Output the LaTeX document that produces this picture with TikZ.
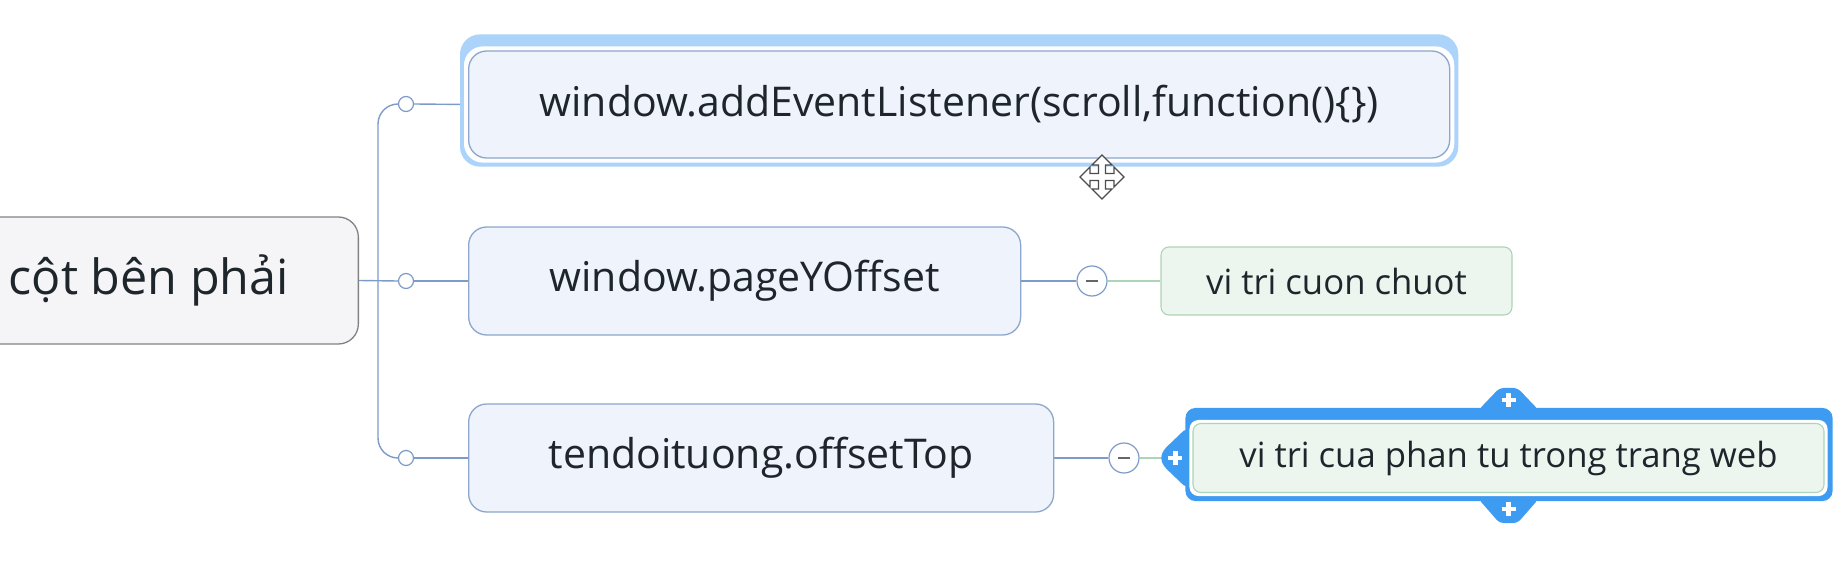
\documentclass[tikz,border=0pt]{standalone}
\usepackage{fontspec}
\setmainfont{Open Sans}
\usetikzlibrary{calc,backgrounds}

\definecolor{boxfill}{RGB}{238,243,252}
\definecolor{boxline}{RGB}{140,166,204}
\definecolor{rootfill}{RGB}{245,245,247}
\definecolor{rootline}{RGB}{130,130,130}
\definecolor{notefill}{RGB}{236,246,239}
\definecolor{noteline}{RGB}{172,212,182}
\definecolor{linkblue}{RGB}{125,155,200}
\definecolor{selpale}{RGB}{172,211,250}
\definecolor{selblue}{RGB}{62,155,242}
\definecolor{inktext}{RGB}{30,38,44}

\tikzset{
  topic/.style={draw=boxline, fill=boxfill, line width=1.3, rounded corners=18,
    text=inktext, font=\fontsize{41}{48}\selectfont, inner sep=0, minimum height=107, anchor=west},
  roottopic/.style={draw=rootline, fill=rootfill, line width=1.3, rounded corners=20,
    text=inktext, font=\fontsize{48.5}{56}\selectfont, inner sep=0, minimum height=127, anchor=east},
  note/.style={draw=noteline, fill=notefill, line width=1.1, rounded corners=8,
    text=inktext, font=\fontsize{34.7}{40}\selectfont, inner sep=0, minimum height=68},
  knob/.style={circle, draw=linkblue, fill=white, line width=1.2, inner sep=0, minimum size=15},
  fold/.style={circle, draw=linkblue, fill=white, line width=1.2, inner sep=0, minimum size=30,
    path picture={\draw[gray!80!black, line width=1.6] (path picture bounding box.center) +(-6,0) -- +(6,0);}},
  link/.style={draw=linkblue, line width=1.4},
  notelink/.style={draw=noteline, line width=1.4},
  plusmark/.style={white, line width=4.2},
}

\begin{document}
\begin{tikzpicture}[x=1pt,y=1pt,yscale=-1,xscale=1]
  \useasboundingbox (0,0) rectangle (1835,575);

  % Root Node
  \node[roottopic, minimum width=419] (root) at (359,280.5) {cột bên phải};

  % Topic Nodes
  \node[topic, minimum width=981] (evt) at (468,104.5) {window.addEventListener(scroll,function()\{\})};
  \node[topic, minimum width=552, minimum height=108] (offy) at (468,281) {window.pageYOffset};
  \node[topic, minimum width=585, minimum height=108] (offtop) at (468,458) {tendoituong.offsetTop};

  % Note Nodes
  \node[note, minimum width=351] (cuon) at (1336.5,281) {vi tri cuon chuot};
  \node[note, minimum width=631, minimum height=69] (vitri) at (1508.5,458) {vi tri cua phan tu trong trang web};

  % Knobs
  \node[knob] (c1) at (406,104) {};
  \node[knob] (c2) at (406,281) {};
  \node[knob] (c3) at (406,458) {};
  \coordinate (trunk) at (378,281);
  \node[fold] (m1) at (1092,281) {};
  \node[fold] (m2) at (1124,458) {};

  \begin{scope}[on background layer]
    %Straight Lines
    \draw[link] (root.east) -- (c2.west);
    \draw[link, rounded corners=20] (c1.west) -| (trunk) |- (c3.west);
    \draw[link] (c1.east) -- (evt.west);
    \draw[link] (c2.east) -- (offy.west);
    \draw[link] (c3.east) -- (offtop.west);
    \draw[link] (offy.east) -- (m1.west);
    \draw[notelink] (m1.east) -- (cuon.west);
    \draw[link] (offtop.east) -- (m2.west);
    \draw[notelink] (m2.east) -- (vitri.west);

    %Shape: selection frame (top)
    \fill[selpale, rounded corners=20] ($(evt.north west)+(-8,-16)$) rectangle ($(evt.south east)+(8,8)$);
    \fill[white, rounded corners=19] ($(evt.north west)+(-4,-4)$) rectangle ($(evt.south east)+(4,4)$);

    %Shape: selection frame (bottom)
    \fill[selblue, rounded corners=10] ($(vitri.north west)+(-7,-15)$) rectangle ($(vitri.south east)+(8,8)$);
    \fill[selblue, rounded corners=4] ($(vitri.north)+(-30,-13)$) -- ($(vitri.north)+(-9,-35)$)
      -- ($(vitri.north)+(9,-35)$) -- ($(vitri.north)+(30,-13)$) -- cycle;
    \fill[selblue, rounded corners=4] ($(vitri.south)+(-30,6)$) -- ($(vitri.south)+(-9,30)$)
      -- ($(vitri.south)+(9,30)$) -- ($(vitri.south)+(30,6)$) -- cycle;
    \fill[selblue, rounded corners=4] ($(vitri.west)+(-6,-30)$) -- ($(vitri.west)+(-29,-8)$)
      -- ($(vitri.west)+(-32,0)$) -- ($(vitri.west)+(-29,8)$) -- ($(vitri.west)+(-6,30)$) -- cycle;
    \fill[white, rounded corners=9] ($(vitri.north west)+(-3,-3)$) rectangle ($(vitri.south east)+(3,3)$);
  \end{scope}

  % plus marks
  \draw[plusmark] ($(vitri.north)+(0,-23)$) +(-7,0) -- +(7,0) +(0,-7) -- +(0,7);
  \draw[plusmark] ($(vitri.south)+(0,16)$) +(-7,0) -- +(7,0) +(0,-7) -- +(0,7);
  \draw[plusmark] ($(vitri.west)+(-17,0)$) +(-7,0) -- +(7,0) +(0,-7) -- +(0,7);

  %Shape: move cursor
  \begin{scope}[shift={(1102,177)}]
    \draw[fill=white, draw=black!70, line width=1.2, line join=miter]
      (0,-22) -- (10,-12) -- (3.5,-12) -- (3.5,-3.5) -- (12,-3.5) -- (12,-10) -- (22,0) -- (12,10) -- (12,3.5)
      -- (3.5,3.5) -- (3.5,12) -- (10,12) -- (0,22) -- (-10,12) -- (-3.5,12) -- (-3.5,3.5) -- (-12,3.5) -- (-12,10)
      -- (-22,0) -- (-12,-10) -- (-12,-3.5) -- (-3.5,-3.5) -- (-3.5,-12) -- (-10,-12) -- cycle;
  \end{scope}
\end{tikzpicture}
\end{document}
